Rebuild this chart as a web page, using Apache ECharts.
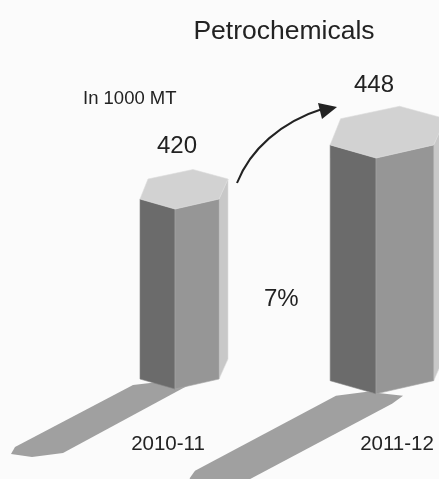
<!DOCTYPE html>
<html><head><meta charset="utf-8">
<style>html,body{margin:0;padding:0;background:#fbfbfb}#c{width:439px;height:479px}</style>
<script src="https://cdn.jsdelivr.net/npm/echarts@6/dist/echarts.min.js"></script>
</head><body><div id="c"></div>
<script>
const categories = ['2010-11', '2011-12'];
const values = [420, 448];
const titleText = 'Petrochemicals';
const unitText = 'In 1000 MT';
const growthText = '7%';

const FONT = '"Liberation Sans", Arial, sans-serif';
const INK = '#222222';
// prism template, relative to the front top vertex, scaled per bar
const H = 180;
const HEX = [[-35,-10],[0,0],[44,-10],[53,-30],[18,-39.5],[-27,-30]];
const SCALE = [1, 1.31];
const SHADOW = [
  [[-42,-4],[-8,-8],[12,-3],[-112,64],[-143,68],[-164,65],[-160,58]],
  [[-40,2],[-9,-2],[27,2],[16,10],[-150,98],[-190,98],[-186,84],[-181,77]]
];
const LABEL_DX = [-7, 21];
const LABEL_DY = [55, 51];
const VALUE_DX = [2, -2];
const VALUE_DY = [-63, -73];

function renderPrism(params, api) {
  const i = api.value(0);
  const p = api.coord([i, api.value(1)]);
  const s = SCALE[i];
  const h = H * s;
  const pt = (o, dy) => [p[0] + o[0]*s, p[1] + o[1]*s + (dy||0)];
  const base = [p[0], p[1] + h];
  const poly = (points, fill, stroke) => ({
    type: 'polygon', shape: {points},
    style: {fill, stroke: stroke || fill, lineWidth: stroke ? 0.6 : 0}
  });
  const hex = HEX.map(o => pt(o));
  const low = HEX.map(o => pt(o, h));
  return {
    type: 'group',
    children: [
      poly(SHADOW[i].map(o => [base[0]+o[0], base[1]+o[1]]), '#a0a0a0'),
      poly([hex[2], hex[3], low[3], low[2]], '#c8c8c8', '#dddddd'),
      poly([hex[0], hex[1], low[1], low[0]], '#6b6b6b', '#858585'),
      poly([hex[1], hex[2], low[2], low[1]], '#969696', '#a8a8a8'),
      poly(hex, '#d2d2d2', '#dcdcdc'),
      {type: 'text', style: {text: String(api.value(1)), x: p[0] + VALUE_DX[i], y: p[1] + VALUE_DY[i],
        align: 'center', verticalAlign: 'middle', font: '24px ' + FONT, fill: INK}},
      {type: 'text', style: {text: categories[i], x: p[0] + LABEL_DX[i], y: base[1] + LABEL_DY[i],
        align: 'center', verticalAlign: 'middle', font: '20.5px ' + FONT, fill: INK}}
    ]
  };
}

const chart = echarts.init(document.getElementById('c'), null, {renderer: 'canvas'});
chart.setOption({
  animation: false,
  backgroundColor: '#fbfbfb',
  title: {text: titleText, left: 279, top: 13, textAlign: 'center',
    textStyle: {fontFamily: FONT, fontSize: 26.5, fontWeight: 'normal', color: INK}},
  grid: {left: 175, width: 201, top: 63.3, height: 364.3},
  xAxis: {type: 'category', data: categories, show: false, boundaryGap: false},
  yAxis: {type: 'value', min: 300, max: 500, show: false},
  series: [{
    type: 'custom', clip: false, renderItem: renderPrism,
    data: values.map((v, i) => [i, v]), encode: {x: 0, y: 1}
  }],
  graphic: [
    {type: 'text', x: 83, y: 89, style: {text: unitText, font: '18.5px ' + FONT, fill: INK}},
    {type: 'text', x: 264, y: 287, style: {text: growthText, font: '24px ' + FONT, fill: INK}},
    {type: 'bezierCurve', shape: {x1: 237, y1: 183, cpx1: 250, cpy1: 150, cpx2: 280, cpy2: 122, x2: 325, y2: 108},
      style: {fill: 'none', stroke: INK, lineWidth: 2}},
    {type: 'polygon', shape: {points: [[337,107],[318,103],[322,119]]}, style: {fill: INK}}
  ]
});
</script></body></html>
